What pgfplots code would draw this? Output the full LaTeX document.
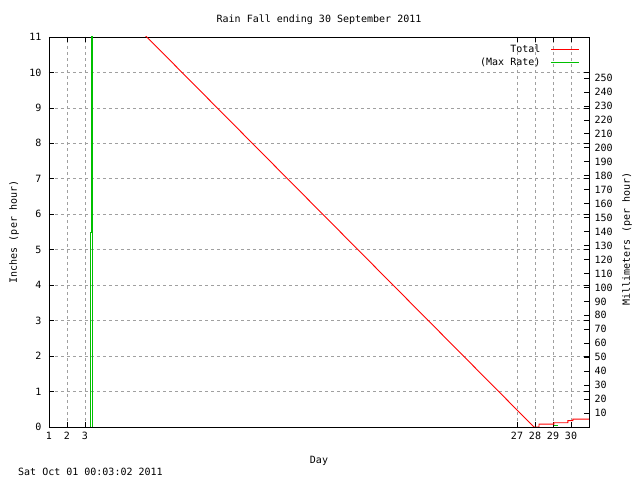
\documentclass[border=0pt]{standalone}
\usepackage{pgfplots}
\pgfplotsset{compat=1.18}
\usepackage{fontspec}
\setmainfont{DejaVu Sans Mono}
\definecolor{gpgreen}{RGB}{0,192,0}
\definecolor{gpgrid}{RGB}{160,160,160}
\begin{document}
\begin{tikzpicture}[font=\fontsize{10bp}{12bp}\selectfont]
\useasboundingbox (-49bp,-53bp) rectangle (591bp,427bp);
\begin{axis}[
  at={(0,0)}, anchor=south west,
  scale only axis, width=540bp, height=390bp,
  xmin=1, xmax=31, ymin=0, ymax=11,
  xtick={1,2,3,27,28,29,30},
  ytick={0,1,...,11},
  grid=major,
  major grid style={gpgrid, dash pattern=on 3bp off 3bp, line width=0.8bp},
  axis line style={line width=0.8bp},
  tick style={black, line width=0.8bp},
  major tick length=5bp,
  tick align=inside,
  /pgf/number format/assume math mode=true,
  ticklabel style={font=\fontsize{10bp}{12bp}\selectfont},
  yticklabel style={xshift=-4bp},
  xticklabel style={yshift=-2bp},
  unbounded coords=jump,
  legend style={at={(rel axis cs:1,1)}, anchor=north east, xshift=-6bp, yshift=-4bp,
    draw=none, fill=none, font=\fontsize{10bp}{12bp}\selectfont, row sep=1bp,
    nodes={inner sep=1.5bp}},
  legend plot pos=right, legend cell align=right,
  legend image code/.code={\path (0bp,0bp); \draw[#1, line width=1bp] (9bp,0bp) -- (37bp,0bp);},
]
\addplot[red, line width=0.9bp] coordinates {(4.5,11.99) (27.94,0) (28.22,0) (28.22,0.08) (29.05,0.08) (29.05,0.12) (29.83,0.12) (29.83,0.18) (30.1,0.18) (30.1,0.22) (31,0.22)};
\addlegendentry{Total}
\addplot[gpgreen, line width=0.9bp] coordinates {(3.28,0) (3.28,5.5) (3.35,5.5) (3.35,12) (3.44,12) (3.44,0) (3.44,nan) (29.05,0.03) (29.3,0.03)};
\addlegendentry{(Max Rate)}
\end{axis}
\begin{axis}[
  at={(0,0)}, anchor=south west,
  scale only axis, width=540bp, height=390bp,
  xmin=1, xmax=31, ymin=0, ymax=279.4,
  axis x line=none, axis y line*=right,
  y axis line style={-, line width=0.8bp},
  ytick={10,20,...,250},
  tick style={black, line width=0.8bp},
  major tick length=5bp,
  tick align=inside,
  /pgf/number format/assume math mode=true,
  ticklabel style={font=\fontsize{10bp}{12bp}\selectfont},
  yticklabel style={xshift=2bp},
]
\addplot[draw=none] coordinates {(1,0) (31,279.4)};
\end{axis}
\node[anchor=base] at (270bp,404bp) {Rain Fall ending 30 September 2011};
\node[anchor=base] at (270bp,-36bp) {Day};
\node[anchor=base west, inner sep=0pt] at (-31bp,-48bp) {Sat Oct 01 00:03:02 2011};
\node[rotate=90] at (-35bp,195bp) {Inches (per hour)};
\node[rotate=90] at (578bp,188bp) {Millimeters (per hour)};
\end{tikzpicture}
\end{document}
